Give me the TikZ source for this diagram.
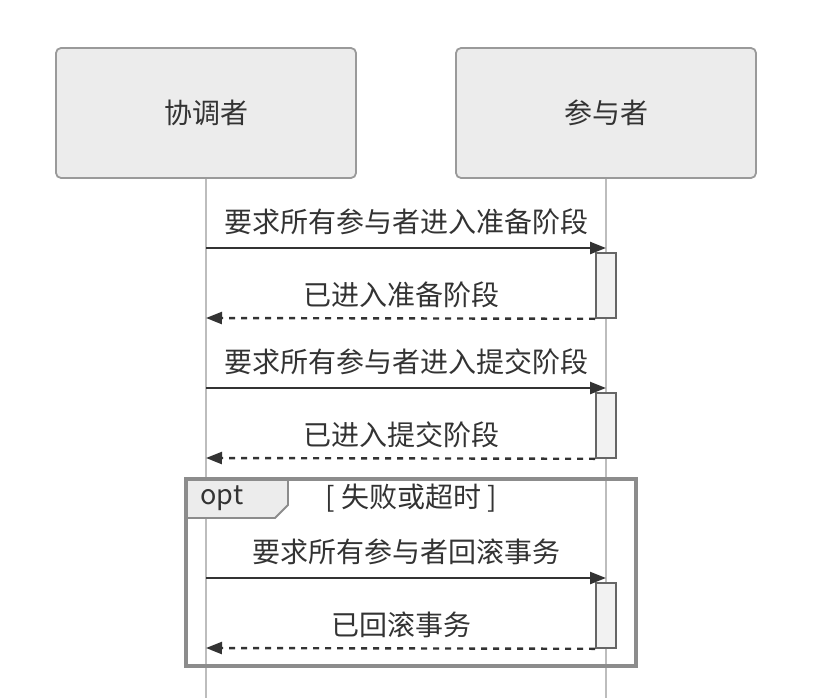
\documentclass[tikz,border=0pt]{standalone}
\usepackage{fontspec}
\setmainfont{Noto Sans CJK SC}
\usetikzlibrary{arrows.meta,calc}
\definecolor{txt}{HTML}{333333}
\definecolor{actfill}{HTML}{ECECEC}
\definecolor{actdraw}{HTML}{9A9A9A}
\definecolor{lifec}{HTML}{BDBDBD}
\definecolor{barfill}{HTML}{F2F2F2}
\definecolor{bardraw}{HTML}{666666}
\definecolor{optdraw}{HTML}{8C8C8C}
\tikzset{
  actor/.style={draw=actdraw, fill=actfill, line width=1.8pt, rounded corners=5pt,
    minimum width=300pt, minimum height=130pt, inner sep=0pt, text=txt,
    font=\fontsize{28}{32}\selectfont},
  life/.style={draw=lifec, line width=1.6pt},
  actbar/.style={draw=bardraw, fill=barfill, line width=1.8pt, minimum width=20pt,
    minimum height=65pt, inner sep=0pt, anchor=north},
  msg/.style={draw=txt, line width=2.4pt, -{Triangle[length=16pt,width=12pt]}},
  reply/.style={msg, dash pattern=on 6pt off 6pt},
  lbl/.style={text=txt, font=\fontsize{28}{32}\selectfont, inner sep=0pt},
  optlbl/.style={text=txt, font=\fontsize{27}{31}\selectfont, inner sep=0pt},
  condlbl/.style={text=txt, font=\fontsize{28}{32}\selectfont, inner sep=0pt}
}
\begin{document}
\begin{tikzpicture}[x=1pt,y=-1pt]
\useasboundingbox (0,0) rectangle (832,698);
% actors
\node[actor] (A) at (206,113) {协调者};
\node[actor] (B) at (606,113) {参与者};
% lifeline ends
\coordinate (Aend) at (206,698);
\coordinate (Bend) at (606,698);
\draw[life] (A.south) -- (Aend);
\draw[life] (B.south) -- (Bend);
% points on lifelines
\coordinate (a1) at (206,248);
\coordinate (b1) at (606,248);
\coordinate (a2) at (206,318);
\coordinate (a3) at (206,388);
\coordinate (b3) at (606,388);
\coordinate (a4) at (206,458);
\coordinate (a5) at (206,578);
\coordinate (b5) at (606,578);
\coordinate (a6) at (206,648);
% opt frame
\draw[draw=optdraw, line width=3.4pt] (186,479) rectangle (636,666);
\draw[draw=optdraw, line width=1.8pt, fill=actfill] (186,479) -- (288,479) -- (288,505) -- (275,518) -- (186,518) -- cycle;
\draw[draw=optdraw, line width=3.4pt] (186,479) -- (288,479);
\draw[draw=optdraw, line width=3.4pt] (186,479) -- (186,518);
\node[optlbl] (optt) at (222,498) {opt};
\node[condlbl] (cond) at (411,498) {[ 失败或超时 ]};
% activation bars
\node[actbar] (act1) at (606,252) {};
\node[actbar] (act2) at (606,392) {};
\node[actbar] (act3) at (606,582) {};
% messages
\draw[msg] (a1) -- (b1);
\node[lbl] (m1) at (406,222) {要求所有参与者进入准备阶段};
\draw[reply] (act1.south west) -- (a2);
\node[lbl] (m2) at (401,295) {已进入准备阶段};
\draw[msg] (a3) -- (b3);
\node[lbl] (m3) at (406,362) {要求所有参与者进入提交阶段};
\draw[reply] (act2.south west) -- (a4);
\node[lbl] (m4) at (401,435) {已进入提交阶段};
\draw[msg] (a5) -- (b5);
\node[lbl] (m5) at (406,552) {要求所有参与者回滚事务};
\draw[reply] (act3.south west) -- (a6);
\node[lbl] (m6) at (401,625) {已回滚事务};
\end{tikzpicture}
\end{document}
